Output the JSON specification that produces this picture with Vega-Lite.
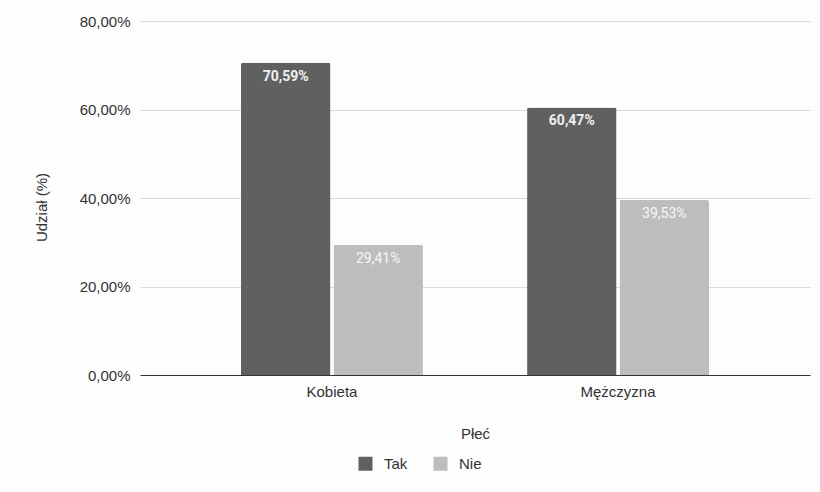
{
  "$schema": "https://vega.github.io/schema/vega-lite/v6.json",
  "autosize": "none",
  "width": 670,
  "height": 354,
  "padding": {"left": 140, "top": 21, "right": 10, "bottom": 117},
  "background": "#fdfdfd",
  "config": {
    "locale": {"number": {"decimal": ",", "thousands": " ", "grouping": [3], "currency": ["", " zł"]}},
    "view": {"stroke": null},
    "font": "Liberation Sans"
  },
  "data": {
    "values": [
      {"plec": "Kobieta", "odp": "Tak", "udzial": 0.7059},
      {"plec": "Kobieta", "odp": "Nie", "udzial": 0.2941},
      {"plec": "Mężczyzna", "odp": "Tak", "udzial": 0.6047},
      {"plec": "Mężczyzna", "odp": "Nie", "udzial": 0.3953}
    ]
  },
  "encoding": {
    "x": {
      "field": "plec", "type": "nominal", "sort": ["Kobieta", "Mężczyzna"],
      "scale": {"paddingInner": 0.364, "paddingOuter": 0.353},
      "axis": {
        "title": "Płeć", "labelAngle": 0, "labelFontSize": 15, "labelColor": "#333",
        "labelPadding": 9, "ticks": false, "domain": true, "domainColor": "#333", "domainWidth": 1,
        "titleFontSize": 15, "titleFontWeight": "normal", "titleColor": "#333", "titleY": 58, "titleBaseline": "middle"
      }
    },
    "xOffset": {"field": "odp", "type": "nominal", "sort": ["Tak", "Nie"], "scale": {"domain": ["Tak", "Nie"], "paddingInner": 0.033}},
    "y": {
      "field": "udzial", "type": "quantitative",
      "scale": {"domain": [0, 0.8]},
      "axis": {
        "title": "Udział (%)", "format": ".2%", "values": [0, 0.2, 0.4, 0.6, 0.8], "labelOverlap": false,
        "labelFontSize": 15, "labelColor": "#333", "labelPadding": 10, "ticks": false, "domain": false,
        "gridColor": "#d9d9d9", "gridWidth": 1.2,
        "titleFontSize": 15, "titleFontWeight": "normal", "titleColor": "#333", "titleX": -99, "titleY": 186, "titleAngle": -90, "titleBaseline": "middle", "titleAlign": "center"
      }
    }
  },
  "layer": [
    {
      "mark": {"type": "bar", "cornerRadiusTopLeft": 2, "cornerRadiusTopRight": 2},
      "encoding": {
        "color": {
          "field": "odp", "type": "nominal", "sort": ["Tak", "Nie"],
          "scale": {"domain": ["Tak", "Nie"], "range": ["#606060", "#bdbdbd"]},
          "legend": {
            "title": null, "orient": "none", "direction": "horizontal", "legendX": 218, "legendY": 435,
            "symbolType": "square", "symbolSize": 196, "symbolStrokeWidth": 0, "labelFontSize": 15, "labelColor": "#333",
            "columnPadding": 25, "labelOffset": 11
          }
        }
      }
    },
    {
      "transform": [{"filter": "datum.odp === 'Tak'"}],
      "mark": {"type": "text", "baseline": "top", "dy": 7, "fontSize": 14, "font": "Roboto", "fontWeight": "bold", "color": "#f0f0f0"},
      "encoding": {
        "text": {"field": "udzial", "type": "quantitative", "format": ".2%"}
      }
    },
    {
      "transform": [{"filter": "datum.odp === 'Nie'"}],
      "mark": {"type": "text", "baseline": "top", "dy": 7, "fontSize": 14, "font": "Roboto", "color": "#f7f7f7", "letterSpacing": 0.6},
      "encoding": {
        "text": {"field": "udzial", "type": "quantitative", "format": ".2%"}
      }
    }
  ]
}
